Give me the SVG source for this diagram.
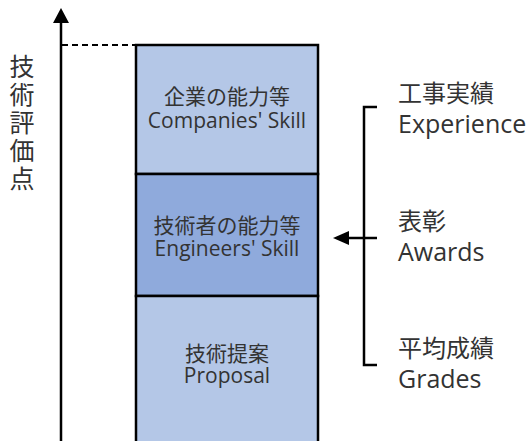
<svg xmlns="http://www.w3.org/2000/svg" width="532" height="441" viewBox="0 0 532 441">
<style>
.jp{font-family:"Noto Sans CJK JP","Noto Sans",sans-serif;fill:#333}
.en{font-family:"Open Sans","Noto Sans CJK JP",sans-serif;fill:#333}
.box{stroke:#000;stroke-width:2.5}
.ln{stroke:#000;stroke-width:2.5;fill:none}
.c{text-anchor:middle}
</style>
<rect width="532" height="441" fill="#fff"/>
<g id="axis">
<line class="ln" x1="61" y1="20" x2="61" y2="441"/>
<polygon points="61,8 53,23 69,23" fill="#000"/>
<line x1="62" y1="45" x2="136" y2="45" stroke="#000" stroke-width="2" stroke-dasharray="6,4"/>
</g>
<g id="axis-label">
<text class="jp" x="22" y="54" font-size="25" writing-mode="vertical-rl" letter-spacing="3">技術評価点</text>
</g>
<g id="companies">
<rect class="box" x="136" y="45" width="182" height="129" fill="#B4C7E7"/>
<text class="c" font-size="21"><tspan class="jp" x="227" y="104">企業の能力等</tspan><tspan class="en" x="227" y="128">Companies' Skill</tspan></text>
</g>
<g id="engineers">
<rect class="box" x="136" y="174" width="182" height="122" fill="#8FAADC"/>
<text class="c" font-size="21"><tspan class="jp" x="227" y="233">技術者の能力等</tspan><tspan class="en" x="227" y="256">Engineers' Skill</tspan></text>
</g>
<g id="proposal">
<rect class="box" x="136" y="296" width="182" height="160" fill="#B4C7E7"/>
<text class="c" font-size="21"><tspan class="jp" x="227" y="361">技術提案</tspan><tspan class="en" x="227" y="383">Proposal</tspan></text>
</g>
<g id="connectors">
<path class="ln" d="M377,107 H364 V365 H377"/>
<path class="ln" d="M364,238 H377"/>
<line class="ln" x1="364" y1="238" x2="347" y2="238"/>
<polygon points="333,238 349,231 349,245" fill="#000"/>
</g>
<g id="experience">
<text><tspan class="jp" x="398" y="102" font-size="24">工事実績</tspan><tspan class="en" x="398" y="133" font-size="25">Experience</tspan></text>
</g>
<g id="awards">
<text><tspan class="jp" x="398" y="230" font-size="24">表彰</tspan><tspan class="en" x="398" y="261" font-size="25">Awards</tspan></text>
</g>
<g id="grades">
<text><tspan class="jp" x="398" y="357" font-size="24">平均成績</tspan><tspan class="en" x="398" y="388" font-size="25">Grades</tspan></text>
</g>
</svg>
